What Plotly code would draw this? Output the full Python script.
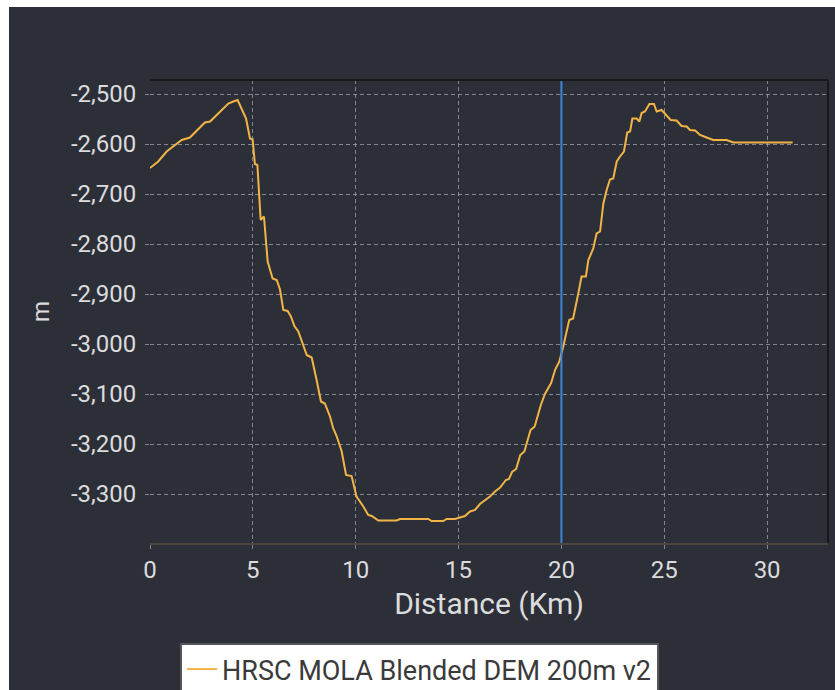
import plotly.graph_objects as go

# Elevation profile along the track
distance_km = [
    0.0, 0.4, 0.81, 1.2, 1.54, 1.94, 2.3, 2.67, 2.92, 3.15, 3.4, 3.6, 3.81, 4.05, 4.26,
    4.67, 4.86, 4.99, 5.1, 5.22, 5.38, 5.54, 5.72, 5.96, 6.16, 6.32, 6.48, 6.69, 6.85,
    7.02, 7.21, 7.62, 7.86, 8.1, 8.31, 8.5, 8.75, 8.91, 9.08, 9.32, 9.53, 9.8, 10.04,
    10.37, 10.61, 10.78, 11.1, 11.99, 12.15, 13.53, 13.69, 14.26, 14.42, 14.83, 15.07,
    15.31, 15.56, 15.8, 16.04, 16.29, 16.53, 16.77, 17.02, 17.3, 17.45, 17.6, 17.8,
    18.0, 18.2, 18.5, 18.7, 19.0, 19.2, 19.5, 19.69, 19.9, 20.09, 20.38, 20.57, 20.82,
    20.98, 21.19, 21.31, 21.55, 21.71, 21.88, 22.04, 22.2, 22.36, 22.52, 22.69, 22.85,
    23.04, 23.2, 23.34, 23.45, 23.66, 23.79, 23.9, 24.06, 24.28, 24.5, 24.63, 24.87,
    25.11, 25.31, 25.6, 25.84, 26.09, 26.25, 26.5, 26.74, 27.06, 27.38, 28.03, 28.2,
    28.36, 31.24,
]
elevation_m = [
    -2648, -2635, -2615, -2603, -2592, -2587, -2572, -2557, -2555, -2546, -2537, -2528,
    -2519, -2515, -2512,
    -2549, -2589, -2591, -2640, -2642, -2752, -2745, -2835, -2869, -2872, -2891, -2932,
    -2934, -2945, -2964, -2975, -3022, -3027, -3072, -3115, -3119, -3145, -3169, -3185,
    -3215, -3262, -3264, -3305, -3325, -3342, -3344, -3353, -3353, -3350, -3350, -3354,
    -3354, -3350, -3350, -3347, -3344, -3335, -3332, -3320, -3312, -3305, -3295, -3287,
    -3272, -3270, -3256, -3250, -3222, -3215, -3172, -3165, -3122, -3100, -3078, -3052,
    -3035, -3005, -2952, -2949, -2899, -2865, -2865, -2832, -2809, -2779, -2775, -2719,
    -2692, -2671, -2669, -2635, -2625, -2615, -2577, -2575, -2549, -2549, -2555, -2538,
    -2535, -2520, -2520, -2535, -2532, -2542, -2552, -2553, -2564, -2565, -2572, -2573,
    -2582, -2587, -2592, -2592, -2595, -2597, -2597,
]

series_name = "HRSC MOLA Blended DEM 200m v2"
cursor_km = 20

x_tickvals = [0, 5, 10, 15, 20, 25, 30]
y_tickvals = [-2500, -2600, -2700, -2800, -2900, -3000, -3100, -3200, -3300]
y_ticktext = ["-2,500", "-2,600", "-2,700", "-2,800", "-2,900", "-3,000",
              "-3,100", "-3,200", "-3,300"]

BG = "#2c2f38"
GRID = "rgba(170,173,180,0.7)"
TEXT = "#dcdcdc"
FONT = "Roboto"

fig = go.Figure()
fig.add_trace(go.Scatter(
    x=distance_km, y=elevation_m, mode="lines", name=series_name,
    line=dict(color="#f2b446", width=2),
))

# cursor line
fig.add_shape(type="line", xref="x", yref="paper", x0=cursor_km, x1=cursor_km,
              y0=0, y1=1, line=dict(color="#3f86d6", width=2), layer="above")
# dark frame on top and right edges
fig.add_shape(type="line", xref="paper", yref="paper", x0=0, x1=1, y0=1, y1=1,
              line=dict(color="#17181c", width=2), layer="above")
fig.add_shape(type="line", xref="paper", yref="paper", x0=1, x1=1, y0=0, y1=1,
              line=dict(color="#17181c", width=2), layer="above")
# white page edge strips
fig.add_shape(type="rect", xref="paper", yref="paper", x0=-0.3, x1=(9 - 150) / 678,
              y0=-0.4, y1=1.3, line=dict(width=0), fillcolor="white", layer="above")
fig.add_shape(type="rect", xref="paper", yref="paper", x0=-0.3, x1=1.2,
              y0=1 + (80 - 7) / 463, y1=1.3, line=dict(width=0), fillcolor="white",
              layer="above")

fig.update_layout(
    width=835, height=690,
    margin=dict(l=150, r=7, t=80, b=147, autoexpand=False),
    paper_bgcolor=BG, plot_bgcolor=BG,
    font=dict(family=FONT, color=TEXT, size=21),
    showlegend=True,
    legend=dict(
        x=(180 - 150) / 678, xanchor="left", y=(543 - 643) / 463, yanchor="top",
        bgcolor="white", bordercolor="#55575c", borderwidth=2,
        font=dict(family=FONT, size=27, color="#3a3a3a"),
    ),
    xaxis=dict(
        range=[0, 32.96], tickvals=x_tickvals, ticks="outside", ticklen=4,
        tickcolor=GRID, showgrid=True, gridcolor=GRID, griddash="4px,3px",
        gridwidth=1, zeroline=False, showline=True, linecolor="#4a463f", linewidth=2,
        tickfont=dict(size=24, color=TEXT), ticklabelstandoff=0, automargin=False,
        title=dict(text="Distance (Km)", font=dict(size=30, color=TEXT), standoff=10),
    ),
    yaxis=dict(
        range=[-3398, -2472], tickvals=y_tickvals, ticktext=y_ticktext,
        ticks="outside", ticklen=4, tickcolor=GRID, showgrid=True, gridcolor=GRID,
        griddash="4px,3px", gridwidth=1, zeroline=False, showline=False,
        tickfont=dict(size=24, color=TEXT), ticklabelstandoff=4, automargin=False,
        title=dict(text="m", font=dict(size=24, color=TEXT), standoff=14),
    ),
)

fig.write_html("out.html")
